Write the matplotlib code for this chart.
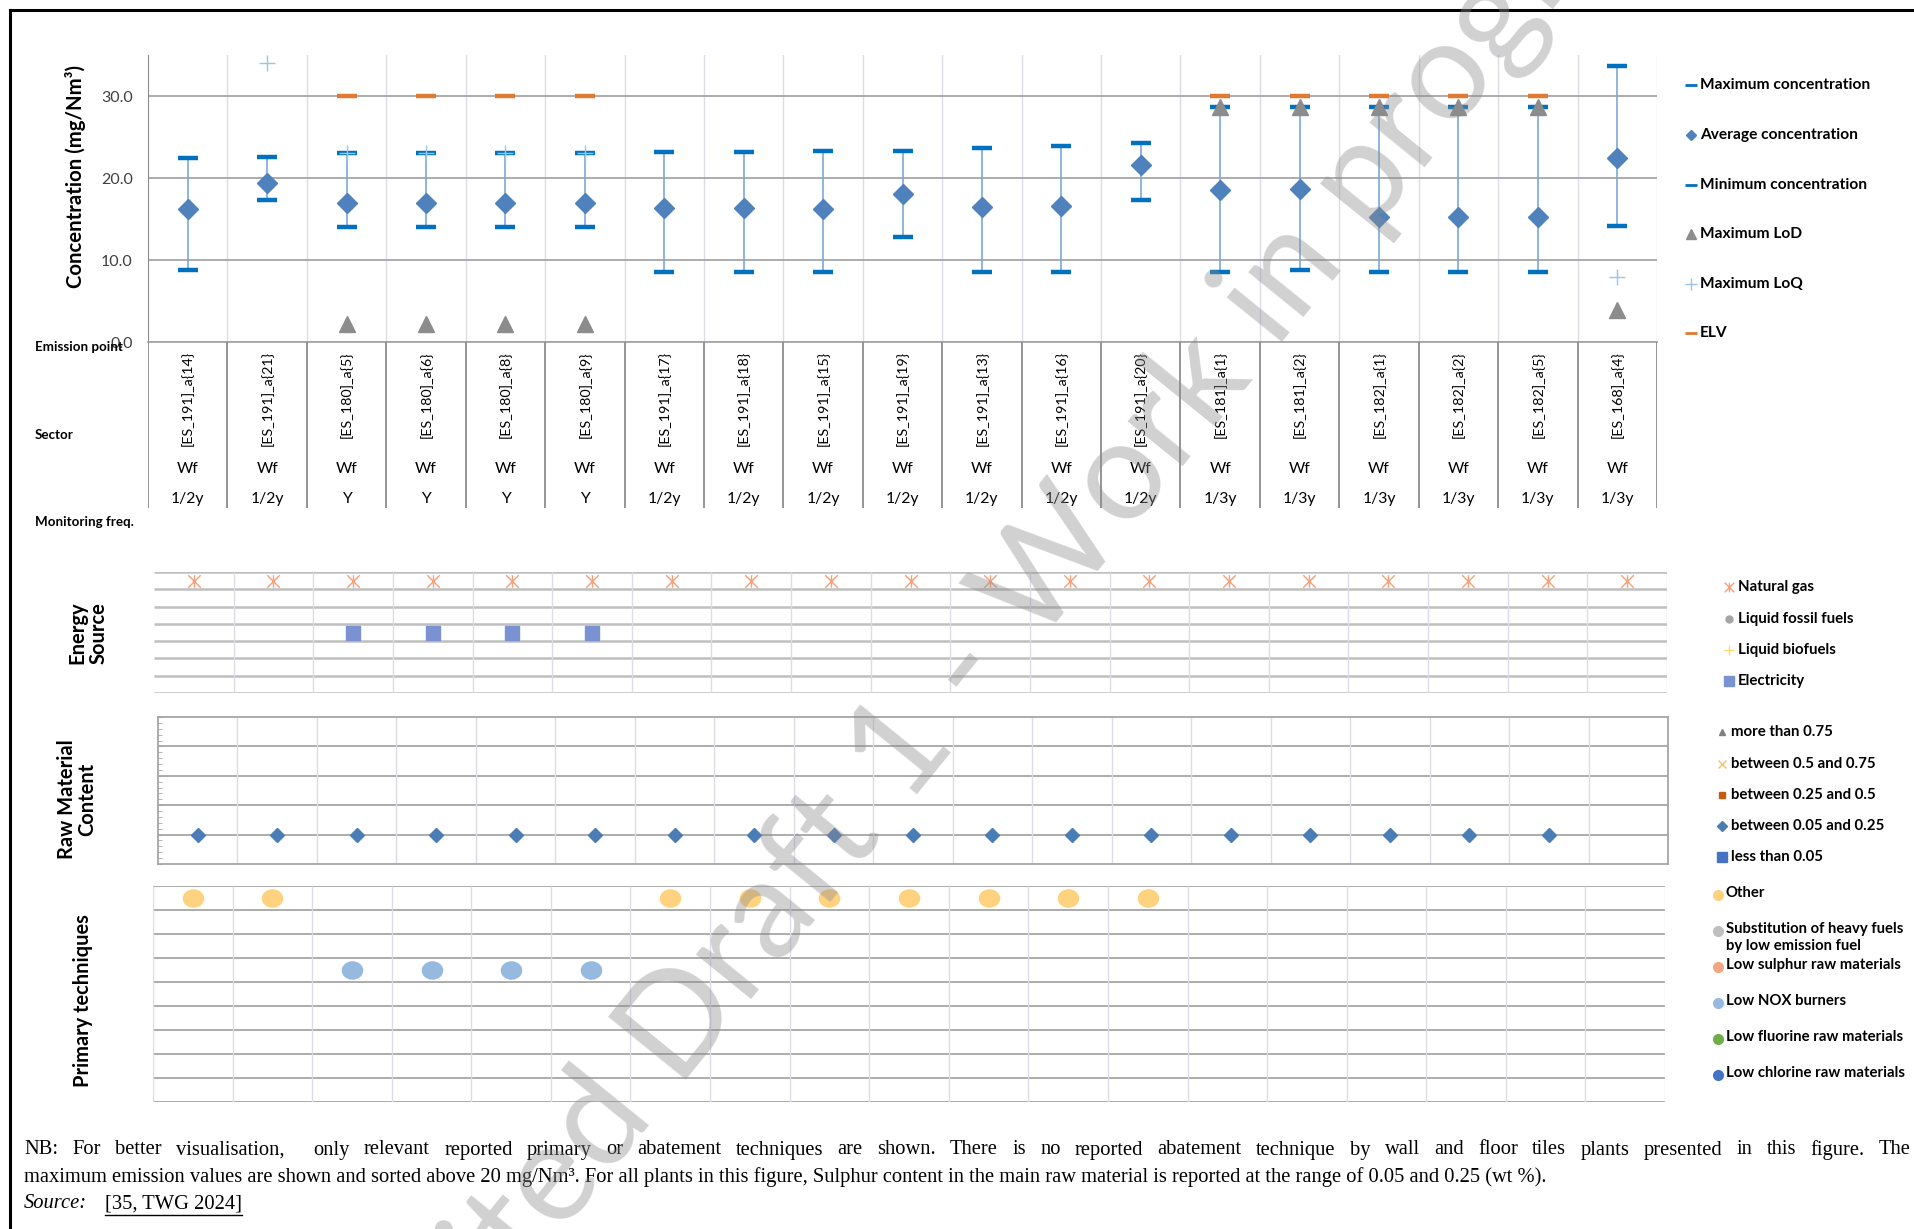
import numpy as np
import matplotlib
matplotlib.use("Agg")
import matplotlib.pyplot as plt
from matplotlib.path import Path

plt.rcParams["font.family"] = ["Lato", "DejaVu Sans"]

W, H = 1914, 1229
nan = np.nan

# --- data ------------------------------------------------------------------
emission_points = ["[ES_191]_a{14}", "[ES_191]_a{21}", "[ES_180]_a{5}", "[ES_180]_a{6}",
                   "[ES_180]_a{8}", "[ES_180]_a{9}", "[ES_191]_a{17}", "[ES_191]_a{18}",
                   "[ES_191]_a{15}", "[ES_191]_a{19}", "[ES_191]_a{13}", "[ES_191]_a{16}",
                   "[ES_191]_a{20}", "[ES_181]_a{1}", "[ES_181]_a{2}", "[ES_182]_a{1}",
                   "[ES_182]_a{2}", "[ES_182]_a{5}", "[ES_168]_a{4}"]
sectors = ["Wf"] * 19
monitoring = ["1/2y", "1/2y", "Y", "Y", "Y", "Y", "1/2y", "1/2y", "1/2y", "1/2y",
              "1/2y", "1/2y", "1/2y", "1/3y", "1/3y", "1/3y", "1/3y", "1/3y", "1/3y"]

max_conc = [22.5, 22.6, 23.0, 23.0, 23.0, 23.0, 23.2, 23.2, 23.35, 23.35,
            23.6, 23.9, 24.3, 28.6, 28.6, 28.6, 28.6, 28.6, 33.7]
avg_conc = [16.2, 19.35, 17.0, 17.0, 17.0, 17.0, 16.3, 16.3, 16.2, 18.0,
            16.5, 16.6, 21.6, 18.55, 18.7, 15.3, 15.3, 15.3, 22.4]
min_conc = [8.8, 17.3, 14.0, 14.0, 14.0, 14.0, 8.5, 8.5, 8.5, 12.75,
            8.5, 8.5, 17.3, 8.5, 8.75, 8.5, 8.5, 8.5, 14.2]
max_lod = [nan, nan, 2.2, 2.2, 2.2, 2.2, nan, nan, nan, nan,
           nan, nan, nan, 28.6, 28.6, 28.6, 28.6, 28.6, 3.9]
max_loq = [nan, 34.0, 23.0, 23.0, 23.0, 23.0, nan, nan, nan, nan,
           nan, nan, nan, nan, nan, nan, nan, nan, 7.9]
elv = [nan, nan, 30, 30, 30, 30, nan, nan, nan, nan,
       nan, nan, nan, 30, 30, 30, 30, 30, nan]

energy_sources = ["Natural gas", "Liquid fossil fuels", "Liquid biofuels", "Electricity"]
natural_gas = [1] * 19
electricity = [0, 0, 1, 1, 1, 1, 0, 0, 0, 0, 0, 0, 0, 0, 0, 0, 0, 0, 0]

sulphur_classes = ["more than 0.75", "between 0.5 and 0.75", "between 0.25 and 0.5",
                   "between 0.05 and 0.25", "less than 0.05"]
sulphur_class = [3] * 18 + [None]

techniques = ["Other", "Substitution of heavy fuels\nby low emission fuel",
              "Low sulphur raw materials", "Low NOX burners",
              "Low fluorine raw materials", "Low chlorine raw materials"]
tech_other = [1, 1, 0, 0, 0, 0, 1, 1, 1, 1, 1, 1, 1, 0, 0, 0, 0, 0, 0]
tech_nox = [0, 0, 1, 1, 1, 1, 0, 0, 0, 0, 0, 0, 0, 0, 0, 0, 0, 0, 0]

note_line1 = ("NB: For better visualisation,  only relevant reported primary or abatement "
              "techniques are shown. There is no reported abatement technique by wall and "
              "floor tiles plants presented in this figure. The")
note_line2 = ("maximum emission values are shown and sorted above 20 mg/Nm³. For all plants "
              "in this figure, Sulphur content in the main raw material is reported at the "
              "range of 0.05 and 0.25 (wt %).")
watermark = "Unedited Draft 1 - Work in progress"

n = len(emission_points)
x = np.arange(n)
bounds = np.arange(n + 1) - 0.5

# colours
C_MAX = "#0070C0"
C_AVG = "#4F81BD"
C_ELV = "#E07A33"
C_LOD = "#8C8C8C"
C_LOQ = "#9DC3E6"
C_BAR = "#7AAAD9"
C_GRID = "#A6A6A6"
C_VLIGHT = "#DADDE8"
C_GAS = "#F4A07A"
C_ELEC = "#7A92D2"
C_RAW = "#4A7DB5"
C_OTHER = "#FFD27F"
C_NOX = "#97B9E0"

asterisk = Path([(0, -1), (0, 1), (-1, -1), (1, 1), (-1, 1), (1, -1)],
                [Path.MOVETO, Path.LINETO] * 3)
_c = Path.unit_circle()
ellipse = Path(_c.vertices * np.array([1.0, 0.85]), _c.codes)


def px_axes(fig, x0, y0, x1, y1):
    return fig.add_axes([x0 / W, 1 - y1 / H, (x1 - x0) / W, (y1 - y0) / H])


fig = plt.figure(figsize=(W / 100, H / 100), dpi=100)

# --- main concentration chart ------------------------------------------------
ax = px_axes(fig, 148, 55, 1657, 342)
ax.set_xlim(-0.5, n - 0.5)
ax.set_ylim(0, 35)
for b in bounds[1:]:
    ax.axvline(b, color=C_VLIGHT, lw=1, zorder=0)
ax.set_yticks([0, 10, 20, 30])
ax.set_yticklabels([f"{v:.1f}" for v in [0, 10, 20, 30]])
ax.set_xticks([])
ax.yaxis.grid(True, color=C_GRID, lw=1.3)
ax.set_axisbelow(True)
for s in ["top", "right"]:
    ax.spines[s].set_visible(False)
ax.spines["left"].set_color("#8C8C8C")
ax.spines["bottom"].set_color(C_GRID)
ax.spines["bottom"].set_linewidth(1.3)
ax.tick_params(axis="y", length=0, labelsize=11.5, labelcolor="#404040", pad=11)

ax.vlines(x, min_conc, max_conc, color=C_BAR, lw=1.2, zorder=2)
ax.plot(x, max_conc, ls="none", marker="_", ms=15, mew=3.2, color=C_MAX, zorder=3)
ax.plot(x, min_conc, ls="none", marker="_", ms=15, mew=3.2, color=C_MAX, zorder=3)
ax.plot(x, elv, ls="none", marker="_", ms=15, mew=3.2, color=C_ELV, zorder=3)
ax.plot(x, avg_conc, ls="none", marker="D", ms=10, color=C_AVG, zorder=4)
ax.plot(x, max_lod, ls="none", marker="^", ms=11, color=C_LOD, zorder=5)
ax.plot(x, max_loq, ls="none", marker="+", ms=11, mew=1, color=C_LOQ, zorder=6)

# category label band
lab = px_axes(fig, 148, 342, 1657, 508)
lab.set_xlim(-0.5, n - 0.5)
lab.set_ylim(508, 342)
lab.axis("off")
lab.vlines(bounds, 342, 508, color="#8C8C8C", lw=1.3)
for i in range(n):
    lab.text(i, 351, emission_points[i], rotation=90, ha="center", va="top", fontsize=10.3)
    lab.text(i, 469, sectors[i], ha="center", va="center", fontsize=11.3)
    lab.text(i, 499, monitoring[i], ha="center", va="center", fontsize=11.3)

# --- energy source panel -----------------------------------------------------
ax_e = px_axes(fig, 154, 572, 1667, 693)
ax_e.set_xlim(-0.5, n - 0.5)
ax_e.set_ylim(0, 7)
ax_e.axis("off")
ax_e.hlines(np.arange(8), -0.5, n - 0.5, color="#BFBFBF", lw=1.8, zorder=0)
ax_e.vlines(bounds[1:], 0, 7, color=C_VLIGHT, lw=1, zorder=0)
ng = np.array(natural_gas, dtype=bool)
el = np.array(electricity, dtype=bool)
ax_e.plot(x[ng], np.full(ng.sum(), 7 - 0.5 - 0), ls="none", marker=asterisk, ms=9,
          mfc="none", mec=C_GAS, mew=1)
ax_e.plot(x[el], np.full(el.sum(), 7 - 0.5 - 3), ls="none", marker="s", ms=10,
          color=C_ELEC)

# --- raw material panel ------------------------------------------------------
ax_r = px_axes(fig, 158, 717, 1668, 864)
ax_r.set_xlim(-0.5, n - 0.5)
ax_r.set_ylim(0, 5)
ax_r.set_xticks([])
ax_r.set_yticks(np.arange(6))
ax_r.set_yticks(np.arange(0, 5.01, 0.2), minor=True)
ax_r.tick_params(axis="y", which="both", direction="in", length=3, color=C_GRID,
                 labelleft=False)
for s in ax_r.spines.values():
    s.set_color(C_GRID)
    s.set_linewidth(1.3)
ax_r.hlines(np.arange(1, 5), -0.5, n - 0.5, color=C_GRID, lw=1.3, zorder=0)
ax_r.vlines(bounds[1:-1], 0, 5, color=C_VLIGHT, lw=1, zorder=0)
rx = [i for i in range(n) if sulphur_class[i] is not None]
ry = [4 - sulphur_class[i] for i in rx]
ax_r.plot(rx, ry, ls="none", marker="D", ms=6.8, color=C_RAW, zorder=3)

# --- primary techniques panel ------------------------------------------------
ax_p = px_axes(fig, 153, 886, 1665, 1102)
ax_p.set_xlim(-0.5, n - 0.5)
ax_p.set_ylim(0, 9)
ax_p.axis("off")
ax_p.hlines(np.arange(10), -0.5, n - 0.5, color=C_GRID, lw=1.3, zorder=0)
ax_p.vlines(bounds, 0, 9, color=C_VLIGHT, lw=1, zorder=0)
ot = np.array(tech_other, dtype=bool)
nx = np.array(tech_nox, dtype=bool)
ax_p.plot(x[ot], np.full(ot.sum(), 9 - 0.5 - 0), ls="none", marker=ellipse, ms=14.5,
          color=C_OTHER)
ax_p.plot(x[nx], np.full(nx.sum(), 9 - 0.5 - 3), ls="none", marker=ellipse, ms=14.5,
          color=C_NOX)

# --- overlay in pixel coordinates: labels, legends, note, watermark ---------
ov = fig.add_axes([0, 0, 1, 1])
ov.set_xlim(0, W)
ov.set_ylim(H, 0)
ov.axis("off")

ov.plot([10, W], [10, 10], color="black", lw=2.2)
ov.plot([10, 10], [10, H], color="black", lw=2.2)

ov.text(76, 176, "Concentration (mg/Nm³)", rotation=90, ha="center", va="center",
        fontsize=14.7, fontweight="bold")
for label, yy in [("Emission point", 347), ("Sector", 435), ("Monitoring freq.", 522)]:
    ov.text(35, yy, label, ha="left", va="center", fontsize=9.6, fontweight="bold")
ov.text(88, 633, "Energy\nSource", rotation=90, ha="center", va="center", fontsize=14.5,
        fontweight="bold", linespacing=1.05)
ov.text(77, 799, "Raw Material\nContent", rotation=90, ha="center", va="center",
        fontsize=14.5, fontweight="bold", linespacing=1.05)
ov.text(83, 1001, "Primary techniques", rotation=90, ha="center", va="center",
        fontsize=14.4, fontweight="bold")

# legend of the concentration chart
top_legend = [
    ("Maximum concentration", dict(marker="_", ms=8, mew=2, color=C_MAX)),
    ("Average concentration", dict(marker="D", ms=5, color=C_AVG)),
    ("Minimum concentration", dict(marker="_", ms=8, mew=2, color=C_MAX)),
    ("Maximum LoD", dict(marker="^", ms=7, color=C_LOD)),
    ("Maximum LoQ", dict(marker="+", ms=8, mew=1, color=C_LOQ)),
    ("ELV", dict(marker="_", ms=8, mew=2, color=C_ELV)),
]
for (label, style), yy in zip(top_legend, [85, 135, 185, 234, 284, 333]):
    ov.plot([1691], [yy], ls="none", **style)
    ov.text(1700, yy, label, ha="left", va="center", fontsize=11.2, fontweight="bold")

energy_styles = [dict(marker=asterisk, ms=7, mfc="none", mec=C_GAS, mew=1),
                 dict(marker="o", ms=5, color="#A5A5A5"),
                 dict(marker="+", ms=7, mew=1, color="#FFD966"),
                 dict(marker="s", ms=7, color=C_ELEC)]
for label, style, yy in zip(energy_sources, energy_styles, [587, 619, 650, 681]):
    ov.plot([1729], [yy], ls="none", **style)
    ov.text(1738, yy, label, ha="left", va="center", fontsize=10.8, fontweight="bold")

raw_styles = [dict(marker="^", ms=5, color="#7F7F7F"),
              dict(marker="x", ms=6, mew=1, color="#F2C26B"),
              dict(marker="s", ms=5, color="#C55A11"),
              dict(marker="D", ms=5, color=C_RAW),
              dict(marker="s", ms=7, color="#4472C4")]
for label, style, yy in zip(sulphur_classes, raw_styles, [732, 764, 795, 826, 857]):
    ov.plot([1722], [yy], ls="none", **style)
    ov.text(1731, yy, label, ha="left", va="center", fontsize=10.8, fontweight="bold")

tech_colors = [C_OTHER, "#BFBFBF", "#F2A686", C_NOX, "#70AD47", "#4472C4"]
for label, col, yy in zip(techniques, tech_colors, [895, 931, 967, 1003, 1039, 1075]):
    ov.plot([1718], [yy], ls="none", marker="o", ms=7, color=col)
    ov.text(1726, yy - 9, label, ha="left", va="top", fontsize=10.7, fontweight="bold",
            linespacing=1.25)

# note below the figure (first line justified like the source document)
serif = dict(family=["Liberation Serif", "DejaVu Serif"], fontsize=14.8)
words = [ov.text(0, 1150, w, ha="left", va="center", **serif) for w in note_line1.split(" ")]
ov.text(24, 1177, note_line2, ha="left", va="center", **serif)
ov.text(24, 1204, "Source:", ha="left", va="center", style="italic", **serif)
ref = ov.text(105, 1204, "[35, TWG 2024]", ha="left", va="center", **serif)

# watermark font measurements
wm_size = 101
wm_angle = 51
probe_a = ov.text(0, 0, "Unedited Draft 1", fontsize=wm_size)
probe_b = ov.text(0, 0, "1", fontsize=wm_size)

fig.canvas.draw()
renderer = fig.canvas.get_renderer()
widths = [t.get_window_extent(renderer).width if t.get_text() else 0.0 for t in words]
gap = (1911 - 24 - sum(widths)) / (len(words) - 1)
xpos = 24
for t, w in zip(words, widths):
    t.set_x(xpos)
    xpos += w + gap

bb = ref.get_window_extent(renderer)
(ux0, uy), (ux1, _) = ov.transData.inverted().transform([[bb.x0, bb.y0], [bb.x1, bb.y0]])
ov.plot([ux0, ux1], [uy + 1, uy + 1], color="black", lw=1)

# watermark: place so that the "1" sits where it is in the reference
d = probe_a.get_window_extent(renderer).width - probe_b.get_window_extent(renderer).width / 2
probe_a.remove()
probe_b.remove()
th = np.deg2rad(wm_angle)
ax0 = 902 - d * np.cos(th)
ay0 = 752 + d * np.sin(th)
ov.text(ax0, ay0, watermark, rotation=wm_angle, ha="left", va="center",
        rotation_mode="anchor", fontsize=wm_size, color="#8C8C8C", alpha=0.4, zorder=20)

fig.savefig("out.png", dpi=100)
